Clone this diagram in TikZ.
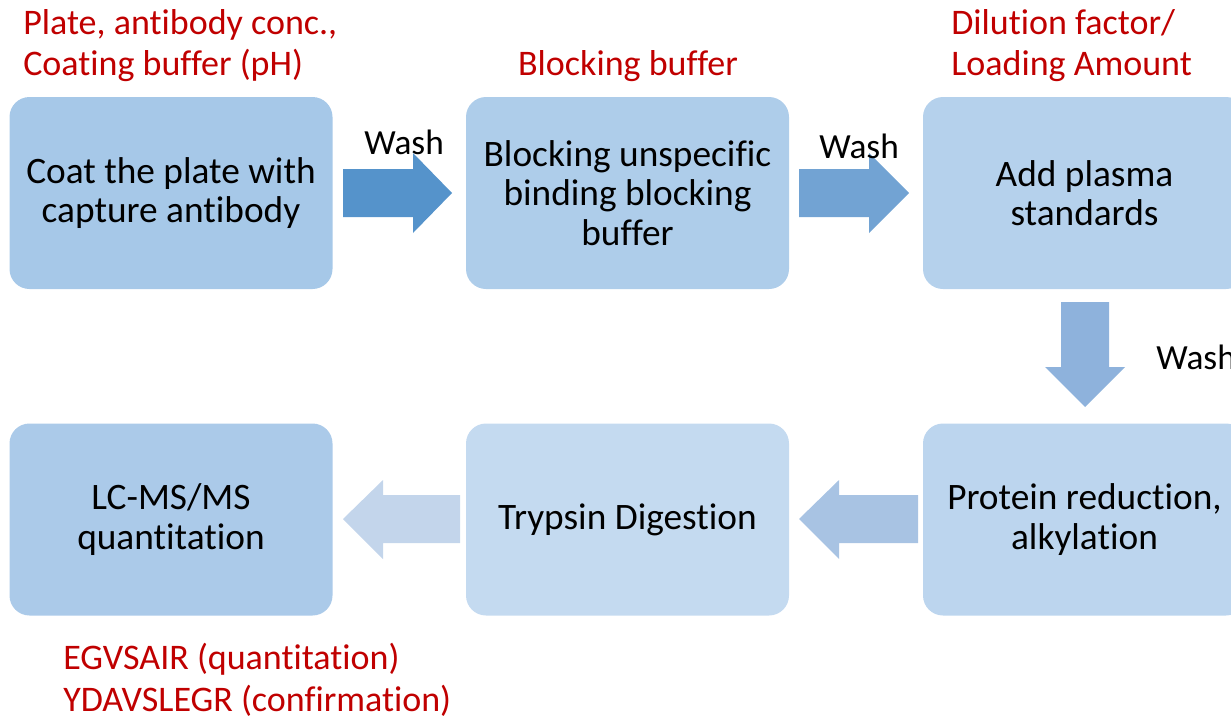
\documentclass[tikz,border=0pt]{standalone}
\usepackage{fontspec}
\setmainfont{Carlito}[Ligatures=NoCommon]
\definecolor{labred}{HTML}{C00000}
\definecolor{bxa}{HTML}{A6C8E8}
\definecolor{bxb}{HTML}{AECDEA}
\definecolor{bxc}{HTML}{B5D1EC}
\definecolor{bxd}{HTML}{BCD5EE}
\definecolor{bxe}{HTML}{C4DAF0}
\definecolor{bxf}{HTML}{ABCAE9}
\definecolor{ara}{HTML}{5593CB}
\definecolor{arb}{HTML}{72A3D3}
\definecolor{arc}{HTML}{8EB2DC}
\definecolor{ard}{HTML}{A8C3E3}
\definecolor{are}{HTML}{C3D5EB}
\begin{document}
\begin{tikzpicture}[x=0.75pt,y=-0.75pt,
  stepbox/.style={rounded corners=15pt, minimum width=242.25pt, minimum height=144pt,
    inner sep=0pt, align=center, font=\fontsize{28}{29.5}\selectfont},
  redlab/.style={text=labred, inner sep=0pt, font=\fontsize{27}{31}\selectfont},
  washlab/.style={inner sep=0pt, font=\fontsize{26.5}{30}\selectfont}]
\useasboundingbox (0,0) rectangle (1231,718);
\clip (0,0) rectangle (1231,718);
% boxes
\node[stepbox, fill=bxa] (b1) at (171,193) {Coat the plate with\\capture antibody};
\node[stepbox, fill=bxb] (b2) at (627.5,193) {Blocking unspecific\\binding blocking\\buffer};
\node[stepbox, fill=bxc] (b3) at (1084.5,193) {Add plasma\\standards};
\node[stepbox, fill=bxd] (b4) at (1084.5,519.5) {Protein reduction,\\alkylation};
\node[stepbox, fill=bxe] (b5) at (627.5,519.5) {Trypsin Digestion};
\node[stepbox, fill=bxf] (b6) at (171,519.5) {LC-MS/MS\\quantitation};
% block arrows
\fill[ara] (343,169) -- (413,169) -- (413,153) -- (452,193) -- (413,233) -- (413,217) -- (343,217) -- cycle;
\fill[arb] (799,169) -- (869,169) -- (869,153) -- (909,193) -- (869,233) -- (869,217) -- (799,217) -- cycle;
\fill[arc] (1061,302) -- (1109,302) -- (1109,367) -- (1125,367) -- (1085,407) -- (1045,367) -- (1061,367) -- cycle;
\fill[ard] (918,495) -- (839,495) -- (839,480) -- (799,519) -- (839,559) -- (839,543) -- (918,543) -- cycle;
\fill[are] (460,495) -- (383,495) -- (383,480) -- (343,519) -- (383,559) -- (383,543) -- (460,543) -- cycle;
% wash labels
\node[washlab, anchor=base west] (w1) at (364,154) {Wash};
\node[washlab, anchor=base west] (w2) at (819,158) {Wash};
\node[washlab, anchor=base west] (w3) at (1156,369) {Wash};
% red labels
\node[redlab, anchor=base west] (r1a) at (23,34) {Plate, antibody conc.,};
\node[redlab, anchor=base west] (r1b) at (23,75) {Coating buffer (pH)};
\node[redlab, anchor=base] (r2) at (628,75) {Blocking buffer};
\node[redlab, anchor=base west] (r3a) at (951,34) {Dilution factor/};
\node[redlab, anchor=base west] (r3b) at (951,75) {Loading Amount};
\node[redlab, anchor=base west] (r4a) at (63,669) {EGVSAIR (quantitation)};
\node[redlab, anchor=base west] (r4b) at (63,711) {YDAVSLEGR (confirmation)};
\end{tikzpicture}
\end{document}
